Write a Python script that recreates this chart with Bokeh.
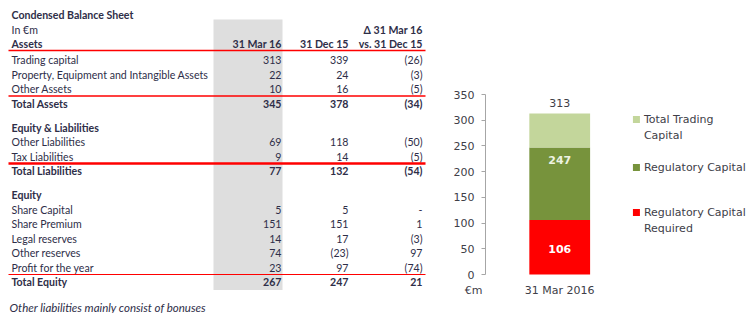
from bokeh.plotting import figure
from bokeh.models import Range1d, FixedTicker, ColumnDataSource
from bokeh.layouts import row
from bokeh.embed import file_html
from bokeh.resources import INLINE
from bokeh.core.properties import value

# ---------------- data ----------------
table_title = "Condensed Balance Sheet"
unit_label = "In €m"
section_header = "Assets"
col_headers = ["31 Mar 16", "31 Dec 15", "vs. 31 Dec 15"]
delta_header_top = "Δ 31 Mar 16"

row_labels = ["Trading capital", "Property, Equipment and Intangible Assets", "Other Assets",
              "Total Assets", "Equity & Liabilities", "Other Liabilities", "Tax Liabilities",
              "Total Liabilities", "Equity", "Share Capital", "Share Premium", "Legal reserves",
              "Other reserves", "Profit for the year", "Total Equity"]
mar16 = [313, 22, 10, 345, None, 69, 9, 77, None, 5, 151, 14, 74, 23, 267]
dec15 = [339, 24, 16, 378, None, 118, 14, 132, None, 5, 151, 17, -23, 97, 247]
delta = [-26, -3, -5, -34, None, -50, -5, -54, None, 0, 1, -3, 97, -74, 21]
bold_rows = ["Total Assets", "Equity & Liabilities", "Total Liabilities", "Equity", "Total Equity"]
section_rows = ["Equity & Liabilities", "Equity"]
underlined_rows = ["Other Assets", "Tax Liabilities", "Profit for the year"]
note = "Other liabilities mainly consist of bonuses"

bar_category = "31 Mar 2016"
series_names = ["Regulatory Capital\nRequired", "Regulatory Capital", "Total Trading\nCapital"]
series_levels = [106, 247, 313]        # cumulative levels shown in the chart
y_ticks = [0, 50, 100, 150, 200, 250, 300, 350]
y_unit = "€m"

# ---------------- styles ----------------
TXT = "#2e2e48"
FONT_T = value("Lato")
FS_T = "10.6px"
RED = "#ff0000"
GREY_BAND = "#dedede"
colors = ["#ff0000", "#77933c", "#c3d69b"]
CH_TXT = "#404048"
FONT_C = value("DejaVu Sans")

H = 313
AXIS_X = 484                # page x of the value axis
PANEL = 34                  # left panel of the chart (axis ticks + labels)
W_T = AXIS_X                # table figure runs up to the axis line
W_C = 750 - AXIS_X + PANEL  # chart figure overlaps the table by PANEL px


def fmt(v):
    if v is None:
        return ""
    if v == 0:
        return "-"
    if v < 0:
        return "(%d)" % (-v)
    return str(v)


# ---------------- table ----------------
t = figure(width=W_T, height=H, x_range=Range1d(0, W_T), y_range=Range1d(H, 0),
           output_backend="svg", toolbar_location=None, x_axis_location=None,
           y_axis_location=None, min_border=0)
t.outline_line_color = None
t.grid.visible = False

X_LAB = 11
X_COLS = [281, 348, 422]
ROW_Y0, ROW_STEP, SEC_GAP = 59.5, 14.5, 9.5
ys = []
yy = ROW_Y0
for i, lab in enumerate(row_labels):
    if i > 0:
        yy += ROW_STEP + (SEC_GAP if lab in section_rows else 0)
    ys.append(yy)

# grey highlight band behind the first value column
t.quad(left=[X_COLS[0] - 68], right=[X_COLS[0] + 1], top=[19], bottom=[ys[-1] + 8],
       fill_color=GREY_BAND, line_color=None)


def tx(xs, ys_, texts, bold=False, align="left", italic=False, size=FS_T, font=FONT_T,
       color=TXT):
    style = "bold" if bold else "normal"
    if italic:
        style = "bold italic" if bold else "italic"
    t.text(x=xs, y=ys_, text=texts, text_font=font, text_font_size=size,
           text_font_style=style, text_align=align, text_baseline="middle", text_color=color)


tx([X_LAB], [14], [table_title], bold=True)
tx([X_LAB], [29], [unit_label])
tx([X_LAB], [43], [section_header], bold=True)
tx(X_COLS, [43, 43, 43], col_headers, bold=True, align="right")
tx([X_COLS[2]], [29], [delta_header_top], bold=True, align="right")

for i, lab in enumerate(row_labels):
    b = lab in bold_rows
    tx([X_LAB], [ys[i]], [lab], bold=b)
    vals = [fmt(mar16[i]), fmt(dec15[i]), fmt(delta[i])]
    tx(X_COLS, [ys[i]] * 3, vals, bold=b, align="right")

tx([9], [307], [note], italic=True, size="11.5px")

# red rules
rule_y = [50] + [ys[row_labels.index(r)] + 7 for r in underlined_rows]
rule_w = [1.6, 1.6, 2.6, 1.2]
t.segment(x0=[8] * 4, x1=[425] * 4, y0=rule_y, y1=rule_y, line_color=RED, line_width=rule_w)

# unit caption under the value axis (sits in the area the chart's axis panel overlaps)
tx([473], [290], [y_unit], align="center", size="11px", font=FONT_C, color=CH_TXT)

# ---------------- stacked bar chart ----------------
PPU = 180 / 350.0           # px per unit on the value axis
Y0_PX = 274                 # pixel row of value 0
y_start = -(H - Y0_PX) / PPU
y_end = 350 + (Y0_PX - 180) / PPU
BAR_W = 0.8
UNIT = 61 / BAR_W           # px per x unit
x_start = -(558.5 - AXIS_X) / UNIT
x_end = x_start + (750 - AXIS_X) / UNIT

c = figure(width=W_C, height=H, x_range=Range1d(x_start, x_end), y_range=Range1d(y_start, y_end),
           output_backend="svg", toolbar_location=None, x_axis_location=None,
           min_border_left=PANEL, min_border_right=0, min_border_top=0, min_border_bottom=0,
           margin=(0, 0, 0, -PANEL))
c.outline_line_color = None
c.background_fill_color = None
c.border_fill_color = None
c.grid.visible = False
ax = c.yaxis[0]
ax.bounds = (0, 350)
ax.ticker = FixedTicker(ticks=y_ticks)
ax.axis_line_color = "#a6a6a6"
ax.major_tick_line_color = "#a6a6a6"
ax.major_tick_out = 4
ax.major_tick_in = 0
ax.minor_tick_line_color = None
ax.major_label_standoff = 7
ax.major_label_text_font = "DejaVu Sans"
ax.major_label_text_font_size = "11px"
ax.major_label_text_color = CH_TXT

bottoms = [0] + series_levels[:-1]
src = ColumnDataSource(dict(x=[0] * 3, bottom=bottoms, top=series_levels, color=colors))
c.vbar(x="x", bottom="bottom", top="top", width=BAR_W, fill_color="color", line_color=None, source=src)


def ctext(x, y, s, color=CH_TXT, bold=False, align="center", baseline="middle", size="11px", **kw):
    c.text(x=[x], y=[y], text=[s], text_font=FONT_C, text_font_size=size,
           text_font_style="bold" if bold else "normal", text_align=align,
           text_baseline=baseline, text_color=color, **kw)


# value labels
ctext(0, series_levels[2] + 11 / PPU, str(series_levels[2]))
ctext(0, series_levels[1] - 13 / PPU, str(series_levels[1]), color="#eef3e2", bold=True)
ctext(0, series_levels[0] / 2 - 2 / PPU, str(series_levels[0]), color="white", bold=True)
ctext(0, -16 / PPU, bar_category)

# legend (drawn manually; series order bottom-to-top)
leg_x_sq = x_start + (635.5 - AXIS_X) / UNIT
leg_x_tx = x_start + (643 - AXIS_X) / UNIT
leg_rows_px = [212, 167, 119]   # first-line centre, page px
for k in range(3):
    yv = (Y0_PX - leg_rows_px[k]) / PPU
    c.scatter(x=[leg_x_sq], y=[yv], marker="square", size=7, fill_color=colors[k], line_color=None)
    ctext(leg_x_tx, yv + 7 / PPU, series_names[k], align="left", baseline="top",
          text_line_height=1.27)

layout = row(t, c)
open("out.html", "w").write(file_html(layout, INLINE))
